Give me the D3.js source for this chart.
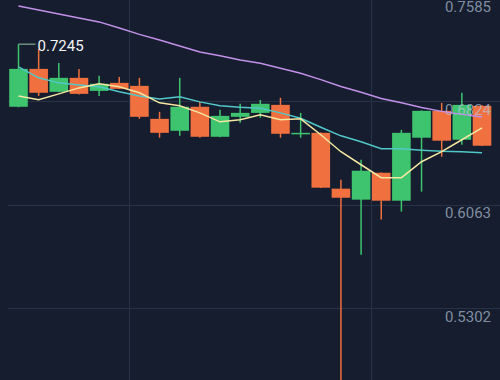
<!DOCTYPE html>
<html><head><meta charset="utf-8">
<script src="https://cdn.jsdelivr.net/npm/d3@7"></script>
<style>html,body{margin:0;padding:0;background:#151d2e;overflow:hidden}svg{display:block}</style>
</head><body><svg id="c" width="500" height="380"></svg>
<script>
const opens  = [0.6784,0.7063,0.6894,0.6997,0.6901,0.6960,0.6938,0.6695,0.6607,0.6784,0.6563,0.6710,0.6739,0.6798,0.6585,0.6592,0.6181,0.6100,0.6298,0.6092,0.6556,0.6754,0.6541,0.6791];
const closes = [0.7063,0.6887,0.6997,0.6879,0.6953,0.6916,0.6710,0.6592,0.6784,0.6563,0.6717,0.6739,0.6806,0.6585,0.6592,0.6188,0.6114,0.6313,0.6092,0.6592,0.6754,0.6534,0.6798,0.6497];
const highs  = [0.7245,0.7210,0.7107,0.7063,0.7012,0.7004,0.6997,0.6747,0.6997,0.6820,0.6762,0.6806,0.6835,0.6850,0.6739,0.6595,0.6247,0.6394,0.6300,0.6614,0.6757,0.6813,0.6887,0.6795];
const lows   = [0.6780,0.6864,0.6890,0.6875,0.6864,0.6914,0.6695,0.6556,0.6570,0.6556,0.6560,0.6666,0.6703,0.6556,0.6556,0.6185,0.4700,0.5695,0.5953,0.6012,0.6159,0.6416,0.6504,0.6495];
const maLong  = [0.7526,0.7497,0.7467,0.7438,0.7409,0.7364,0.7317,0.7276,0.7232,0.7188,0.7159,0.7129,0.7104,0.7067,0.7031,0.6984,0.6933,0.6891,0.6845,0.6813,0.6779,0.6750,0.6728,0.6708];
const maMid   = [0.7078,0.6997,0.6960,0.6945,0.6931,0.6894,0.6864,0.6842,0.6857,0.6820,0.6791,0.6780,0.6773,0.6739,0.6699,0.6633,0.6570,0.6526,0.6475,0.6475,0.6464,0.6456,0.6453,0.6445];
const maShort = [0.6864,0.6835,0.6879,0.6923,0.6953,0.6931,0.6887,0.6813,0.6791,0.6739,0.6673,0.6688,0.6725,0.6688,0.6695,0.6578,0.6453,0.6357,0.6262,0.6262,0.6379,0.6453,0.6541,0.6629];
const yTicks = [0.7585,0.6824,0.6063,0.5302];
const highLabel = "0.7245";

const svg = d3.select("#c");
const idx = d3.range(opens.length);
const x = d3.scaleLinear().domain([0, opens.length-1]).range([18.5, 482]);
const y = d3.scaleLinear().domain([0.5302, 0.7585]).range([308, -2]);
const bw = 18.6;
const UP = "#3ec46e", DOWN = "#f0703f";

// grid
const g = svg.append("g");
g.selectAll("line.h").data(yTicks).join("line")
  .attr("x1", 8).attr("x2", 500)
  .attr("y1", d => Math.round(y(d))+0.5).attr("y2", d => Math.round(y(d))+0.5)
  .attr("stroke", "#273247").attr("stroke-width", 1);
g.selectAll("line.v").data([5.5, 17.5]).join("line")
  .attr("x1", d => Math.round(x(d))+0.5).attr("x2", d => Math.round(x(d))+0.5)
  .attr("y1", 0).attr("y2", 380)
  .attr("stroke", "#273247").attr("stroke-width", 1);

// candles
const cg = svg.append("g");
cg.selectAll("line.w").data(idx).join("line")
  .attr("x1", i => x(i)).attr("x2", i => x(i))
  .attr("y1", i => y(highs[i])).attr("y2", i => y(lows[i]))
  .attr("stroke", i => closes[i] >= opens[i] ? UP : DOWN).attr("stroke-width", 1.5);
cg.selectAll("rect").data(idx).join("rect")
  .attr("x", i => x(i) - bw/2).attr("width", bw)
  .attr("y", i => y(Math.max(opens[i], closes[i])))
  .attr("height", i => Math.max(1.5, Math.abs(y(opens[i]) - y(closes[i]))))
  .attr("fill", i => closes[i] >= opens[i] ? UP : DOWN);

// axis labels
svg.append("g").selectAll("text").data(yTicks).join("text")
  .attr("x", 491).attr("y", d => y(d) + 13.8)
  .attr("text-anchor", "end")
  .attr("font-family", "Roboto, 'Noto Sans', sans-serif").attr("font-size", 15)
  .attr("fill", "rgba(184,199,220,0.68)")
  .text(d => d.toFixed(4));

// moving averages
const line = d3.line().x((d,i) => x(i)).y(d => y(d)).curve(d3.curveLinear);
[[maLong, "#c290e8"], [maMid, "#52c8c8"], [maShort, "#f3e7a2"]].forEach(([arr, col]) => {
  svg.append("path").attr("d", line(arr)).attr("fill", "none")
    .attr("stroke", col).attr("stroke-width", 1.5);
});

// high annotation
const hx = x(0), hy = y(highs[0]);
svg.append("line").attr("x1", hx).attr("x2", hx + 17).attr("y1", hy).attr("y2", hy)
  .attr("stroke", "#7fae90").attr("stroke-width", 1.2);
svg.append("text").attr("x", hx + 19).attr("y", hy + 7)
  .attr("font-family", "Roboto, 'Noto Sans', sans-serif").attr("font-size", 15)
  .attr("fill", "#f2f4f8").text(highLabel);
</script></body></html>
